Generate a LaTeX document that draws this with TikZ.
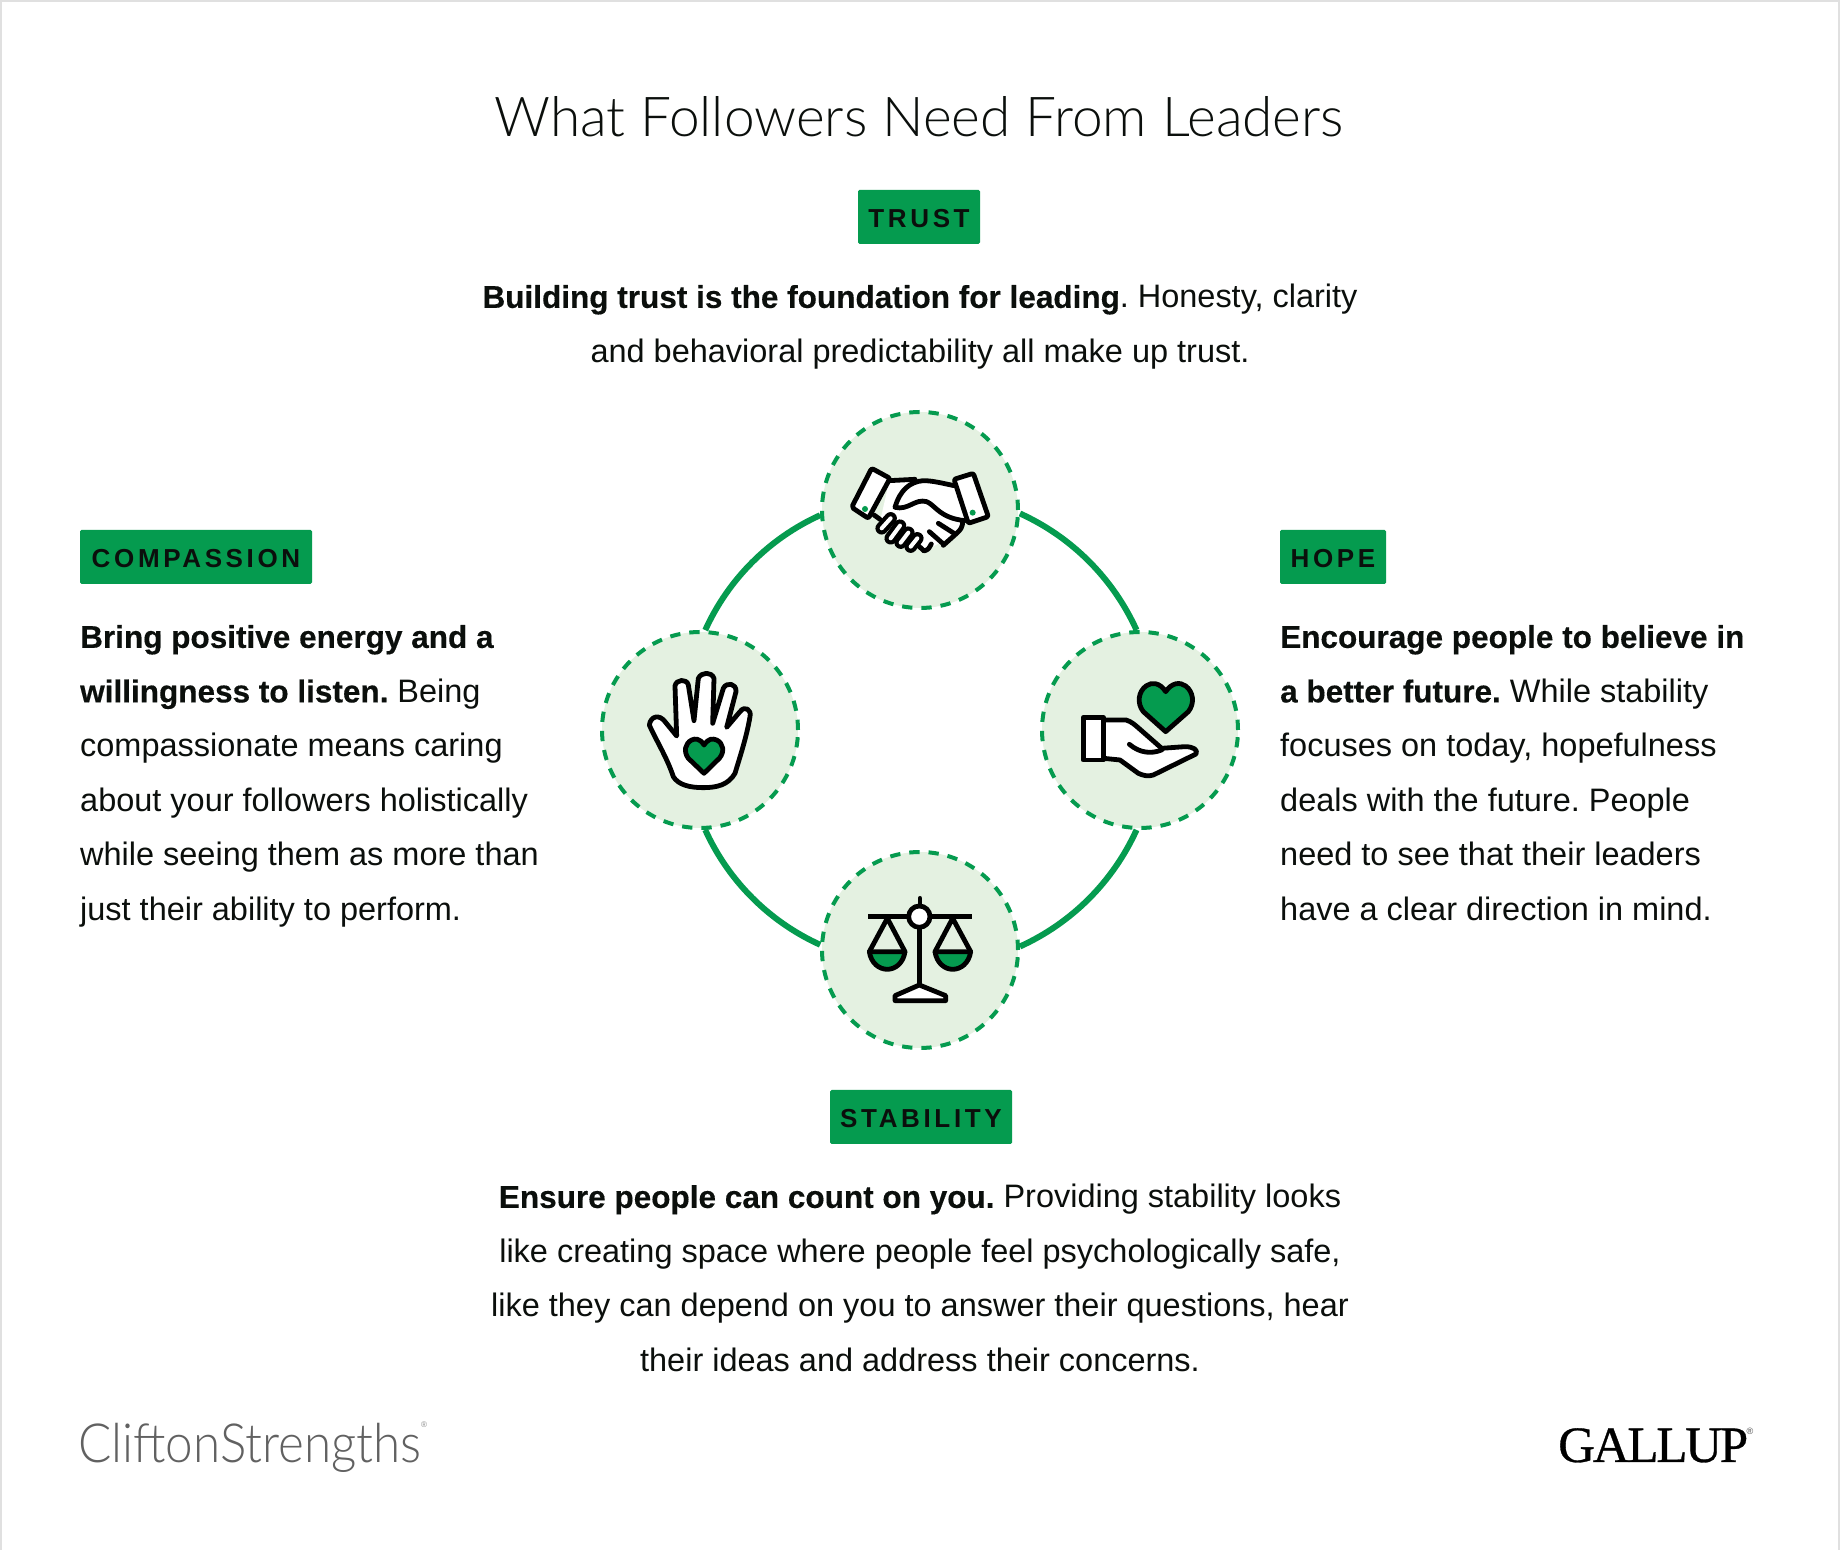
\documentclass[tikz,border=0pt]{standalone}
\usepackage{fontspec}
\setmainfont{Liberation Sans}[UprightFeatures={Scale=1.015},BoldFeatures={Scale=0.985,FakeBold=0.35}]
\newfontfamily\lightf{Lato}[UprightFont=* Light]
\newfontfamily\cliftf{Lato}[UprightFont=* Light,FakeStretch=0.915]
\newfontfamily\tagf{Liberation Sans Bold}[LetterSpace=14]
\newfontfamily\galf{Liberation Serif}[LetterSpace=-4.4,FakeBold=0.6]
\definecolor{gbrand}{HTML}{059B4F}
\definecolor{gpale}{HTML}{E4F1E1}
\definecolor{gink}{HTML}{0B0F0C}
\newcommand{\fl}{\rule{0pt}{30pt}}
\frenchspacing
\tikzset{
  x=1pt,y=1pt,
  tagbox/.style={fill=gbrand,rounded corners=1.5pt,inner sep=0pt,minimum height=54pt,text height=21pt,text depth=0pt,font=\tagf\fontsize{26}{26}\selectfont,text=gink},
  para/.style={inner sep=0pt,text=gink,font=\fontsize{32}{54.5}\selectfont},
  ring/.style={circle,inner sep=0pt,minimum size=196pt,fill=gpale,draw=gbrand,line width=4pt,dash pattern=on 10.3pt off 9pt},
  link/.style={draw=gbrand,line width=6pt},
  ic/.style={draw=black,line width=4.8pt,line join=round,line cap=round},
  icw/.style={ic,fill=white},
  icg/.style={ic,fill=gbrand},
  zoomgrid/.style={x=0.33333pt,y=-0.33333pt},
}
\begin{document}
\begin{tikzpicture}
\useasboundingbox (0,0) rectangle (1840,1550);
\fill[white] (0,0) rectangle (1840,1550);
\draw[draw=black!12,line width=4pt] (0,0) -- (0,1550) -- (1840,1550) -- (1840,0);
\node[inner sep=0pt,text=gink,font=\lightf\fontsize{55}{55}\selectfont] (title) at (919,1433) {What Followers Need From Leaders};
\node[tagbox,minimum width=122pt] (ttrust) at (919,1333) {TRUST};
\node[tagbox,minimum width=232pt] (tcomp) at (196,993) {COMPASSION};
\node[tagbox,minimum width=106pt] (thope) at (1333,993) {HOPE};
\node[tagbox,minimum width=182pt] (tstab) at (921,433) {STABILITY};
\node[para,align=center,anchor=north] (ptrust) at (920,1272.3) {\fl\textbf{Building trust is the foundation for leading}. Honesty, clarity\\and behavioral predictability all make up trust.};
\node[para,align=left,anchor=north west] (pcomp) at (80,932.3) {\fl\textbf{Bring positive energy and a}\\\textbf{willingness to listen.} Being\\compassionate means caring\\about your followers holistically\\while seeing them as more than\\just their ability to perform.};
\node[para,align=left,anchor=north west] (phope) at (1280,932.3) {\fl\textbf{Encourage people to believe in}\\\textbf{a better future.} While stability\\focuses on today, hopefulness\\deals with the future. People\\need to see that their leaders\\have a clear direction in mind.};
\node[para,align=center,anchor=north] (pstab) at (920,372.3) {\fl\textbf{Ensure people can count on you.} Providing stability looks\\like creating space where people feel psychologically safe,\\like they can depend on you to answer their questions, hear\\their ideas and address their concerns.};
% circles
\node[ring] (ntop) at (920,1040) {};
\node[ring] (nleft) at (700,820) {};
\node[ring] (nright) at (1140,820) {};
\node[ring] (nbot) at (920,600) {};
\draw[link] (ntop.-2.3) to[out=-24.4,in=114.4,looseness=0.88] (nright.92.3);
\draw[link] (nright.-92.3) to[out=-114.4,in=24.4,looseness=0.88] (nbot.2.3);
\draw[link] (nbot.177.7) to[out=155.6,in=-65.6,looseness=0.88] (nleft.-87.7);
\draw[link] (nleft.87.7) to[out=65.6,in=-155.6,looseness=0.88] (ntop.-177.7);
% handshake
\begin{scope}[shift={(800,1160)},zoomgrid]
\fill[white] (268,272) -- (345,268) -- (462,285) -- (495,392) -- (480,425) -- (375,483) -- (240,395) -- cycle;
\draw[ic] (268,272) -- (345,268);
\draw[ic] (222,375) -- (240,388);
\draw[icw] (462,287) .. controls (420,278) and (395,272) .. (370,272) .. controls (330,275) and (300,300) .. (285,352) .. controls (325,362) and (345,325) .. (380,335) .. controls (405,345) and (420,385) .. (495,392);
\draw[ic] (488,395) .. controls (488,410) and (482,420) .. (470,430) -- (430,466);
\draw[ic] (388,425) -- (430,462);
\draw[ic] (415,400) -- (462,430);
\draw[ic,fill=white] (350,462) -- (372,483) .. controls (385,480) and (390,472) .. (394,462);
\foreach \a/\b/\c/\d in {245/415/272/385,272/445/300/407,302/458/325/428,332/470/352/445}{
  \draw[line width=12.5pt,black,line cap=round] (\a,\b) -- (\c,\d);
  \draw[line width=4pt,white,line cap=round] (\a,\b) -- (\c,\d);
}
\draw[icw,rounded corners=2pt] (215,235) -- (270,265) -- (205,385) -- (155,352) -- cycle;
\draw[icw,rounded corners=2pt] (462,268) -- (520,250) -- (565,380) -- (505,400) -- cycle;
\fill[gbrand] (195,357) circle[radius=9];
\fill[gbrand] (518,368) circle[radius=9];
\end{scope}
% hand
\begin{scope}[shift={(580,940)},zoomgrid]
\draw[icw] (208,345) .. controls (212,318) and (238,312) .. (255,335) -- (290,378) -- (285,228) .. controls (288,208) and (320,205) .. (325,225) -- (342,332) -- (355,205) .. controls (365,185) and (395,185) .. (402,205) -- (398,340) -- (430,235) .. controls (440,215) and (470,220) .. (468,245) -- (440,352) -- (480,305) .. controls (495,285) and (515,300) .. (510,320) .. controls (500,380) and (480,440) .. (465,490) .. controls (445,525) and (410,533) .. (370,533) .. controls (330,533) and (295,525) .. (280,500) .. controls (260,440) and (225,385) .. (208,345) -- cycle;
\draw[icg] (372,405) .. controls (360,385) and (345,385) .. (335,390) .. controls (315,400) and (310,425) .. (325,445) -- (372,490) -- (418,445) .. controls (435,425) and (430,400) .. (410,390) .. controls (398,385) and (385,385) .. (372,405) -- cycle;
\end{scope}
% giving hand
\begin{scope}[shift={(1020,940)},zoomgrid]
\draw[icw] (250,330) -- (318,330) .. controls (335,335) and (345,345) .. (360,358) -- (425,415) -- (495,410) .. controls (520,410) and (535,420) .. (528,432) -- (400,495) .. controls (385,500) and (370,497) .. (355,490) -- (300,450) -- (250,445) -- cycle;
\draw[ic] (328,403) .. controls (360,430) and (395,432) .. (425,420);
\draw[icw] (190,322) rectangle (250,450);
\draw[icg] (437,245) .. controls (420,218) and (395,215) .. (378,228) .. controls (355,245) and (350,280) .. (370,305) -- (437,365) -- (505,305) .. controls (525,280) and (520,245) .. (497,228) .. controls (480,215) and (455,218) .. (437,245) -- cycle;
\end{scope}
% scales
\begin{scope}[shift={(800,715)},zoomgrid]
\draw[ic] (360,190) -- (360,212);
\draw[ic,line cap=butt] (205,245) -- (515,245);
\draw[ic] (358,277) -- (358,450);
\draw[icw] (358,450) -- (285,482) -- (285,497) -- (437,497) -- (437,482) -- cycle;
\draw[ic] (208,350) -- (262,250) -- (315,350);
\draw[ic] (405,350) -- (458,250) -- (512,350);
\draw[icg] (208,350) -- (315,350) .. controls (310,385) and (285,403) .. (262,403) .. controls (238,403) and (213,385) .. (208,350) -- cycle;
\draw[icg] (405,350) -- (512,350) .. controls (507,385) and (482,403) .. (458,403) .. controls (435,403) and (410,385) .. (405,350) -- cycle;
\draw[icw] (358,245) circle[radius=32];
\end{scope}
% logos
\node[anchor=base west,inner sep=0pt,text=black!62,font=\cliftf\fontsize{54}{54}\selectfont] (lclift) at (78,87.5) {CliftonStrengths};
\node[inner sep=0pt,text=black!45,font=\fontsize{8}{8}\selectfont] (lcreg) at (424,125) {®};
\node[anchor=base west,inner sep=0pt,text=black,font=\galf\fontsize{51}{51}\selectfont] (lgal) at (1558,88) {GALLUP};
\node[inner sep=0pt,text=black!70,font=\fontsize{9}{9}\selectfont] (lgreg) at (1750,119) {®};
\end{tikzpicture}
\end{document}
